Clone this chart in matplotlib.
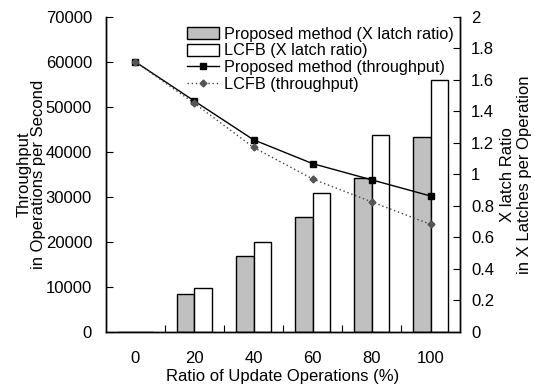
import matplotlib
matplotlib.use("Agg")
import matplotlib.pyplot as plt
import numpy as np
from matplotlib.ticker import MultipleLocator, FixedLocator

plt.rcParams['font.family'] = ['Liberation Sans', 'DejaVu Sans']

categories = ["0", "20", "40", "60", "80", "100"]
prop_latch = [0.0, 0.24, 0.48, 0.73, 0.98, 1.24]
lcfb_latch = [0.0, 0.28, 0.57, 0.88, 1.25, 1.60]
prop_tp = [60000, 51300, 42700, 37400, 33800, 30200]
lcfb_tp = [60000, 50800, 41000, 34000, 28900, 23900]

fig = plt.figure(figsize=(5.35, 3.85), dpi=100)
ax = fig.add_axes([0.198, 0.138, 0.662, 0.818])
ax2 = ax.twinx()
ax.set_zorder(ax2.get_zorder() + 1)
ax.patch.set_visible(False)

x = np.arange(len(categories))
w = 0.29
b1 = ax2.bar(x - w / 2, prop_latch, w, color="#c0c0c0", edgecolor="black", linewidth=1.0,
             label="Proposed method (X latch ratio)")
b2 = ax2.bar(x + w / 2, lcfb_latch, w, color="white", edgecolor="black", linewidth=1.0,
             label="LCFB (X latch ratio)")

l1, = ax.plot(x, prop_tp, color="black", linewidth=1.0, marker="s", markersize=4,
              label="Proposed method (throughput)")
l2, = ax.plot(x, lcfb_tp, color="#444444", linewidth=1.0, linestyle=(0, (1, 2)),
              marker="D", markersize=3.5, markerfacecolor="#555555", markeredgecolor="#555555",
              label="LCFB (throughput)")

ax.set_xlim(-0.5, 5.5)
ax.set_ylim(0, 70000)
ax2.set_ylim(0, 2)
ax.yaxis.set_major_locator(MultipleLocator(10000))
ax2.yaxis.set_major_locator(MultipleLocator(0.2))
ax2.yaxis.set_major_formatter(matplotlib.ticker.FuncFormatter(lambda v, p: ("%g" % round(v, 1))))

ax.set_xticks(x)
ax.set_xticklabels(categories)
ax.xaxis.set_minor_locator(FixedLocator(np.arange(0.5, 5.0, 1.0)))
ax.tick_params(axis="x", which="major", length=0, pad=14, labelsize=12)
ax.tick_params(axis="x", which="minor", direction="in", length=5, width=0.8)
ax.tick_params(axis="y", direction="in", length=5, width=0.8, labelsize=12, pad=10)
ax2.tick_params(axis="y", direction="in", length=5, width=0.8, labelsize=12, pad=8)

for a in (ax, ax2):
    a.spines["top"].set_visible(False)
    for s in ("left", "right", "bottom"):
        a.spines[s].set_linewidth(1.0)

ax.set_xlabel("Ratio of Update Operations (%)", fontsize=12, labelpad=2)
ax.set_ylabel("Throughput\nin Operations per Second", fontsize=12, linespacing=0.95)
ax.yaxis.set_label_coords(-0.170, 0.5)
ax2.set_ylabel("X latch Ratio\nin X Latches per Operation", fontsize=12, linespacing=1.2)
ax2.yaxis.set_label_coords(1.112, 0.5)

handles = [b1, b2, l1, l2]
labels = [h.get_label() for h in handles]
leg = ax.legend(handles, labels, loc="upper right", bbox_to_anchor=(1.01, 1.0), frameon=False,
                fontsize=11.7, handlelength=2.0, handleheight=0.75, handletextpad=0.3,
                labelspacing=0.1, borderaxespad=0.2)

fig.savefig("out.png", dpi=100)
